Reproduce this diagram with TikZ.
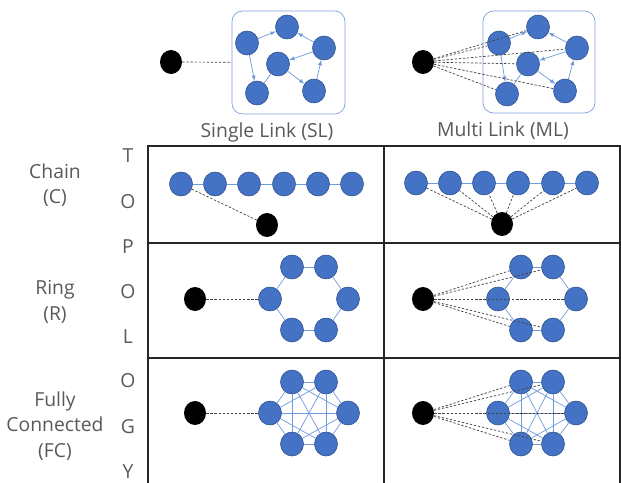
\documentclass[tikz,border=0pt]{standalone}
\usepackage{fontspec}
\setmainfont{Open Sans}
\usetikzlibrary{shapes.geometric}
\definecolor{nodeblue}{HTML}{4472C4}
\definecolor{nodeline}{HTML}{2F528F}
\definecolor{linkblue}{HTML}{6F9BDD}
\definecolor{boxline}{HTML}{7F9FDA}
\definecolor{textgray}{HTML}{595959}
\tikzset{
  agent/.style = {
    ellipse, draw=nodeline, fill=nodeblue, line width=.5pt,
    minimum width=.69cm, minimum height=.72cm, inner sep=0pt
  },
  source/.style = {
    ellipse, fill=black, minimum width=.66cm, minimum height=.72cm, inner sep=0pt
  },
  link/.style = {draw=linkblue, line width=.6pt},
  arrow link/.style = {link, -latex},
  probe/.style = {draw=black!75, dash pattern=on 2pt off 1.5pt, line width=.6pt},
  team box/.style = {
    draw=boxline, line width=.6pt, rounded corners=9pt
  },
  title text/.style = {
    text=textgray, align=center, inner sep=0pt,
    font=\fontsize{16.5}{21.5}\selectfont
  },
  grid line/.style = {draw=black!85, line width=1.2pt}
}

\begin{document}
\begin{tikzpicture}[x=0.03cm, y=-0.03cm]
    \useasboundingbox (0,0) rectangle (621,483);
    % the table
    \draw[grid line] (148,483) -- (148,146) -- (620,146) -- (620,483);
    \draw[grid line] (384,146) -- (384,483);
    \draw[grid line] (148,243) -- (620,243);
    \draw[grid line] (148,358) -- (620,358);
    % headings
    \node[title text] (sl-title) at (267,132) {Single Link (SL)};
    \node[title text] (ml-title) at (503,131) {Multi Link (ML)};
    \node[title text] (chain-title) at (55,185) {Chain\\(C)};
    \node[title text] (ring-title) at (55,302) {Ring\\(R)};
    \node[title text] (fc-title) at (55,426) {Fully\\Connected\\(FC)};
    \path
      (128,156) node[title text] (t1) {T}
      (128,202) node[title text] (t2) {O}
      (128,247) node[title text] (t3) {P}
      (128,292) node[title text] (t4) {O}
      (128,337) node[title text] (t5) {L}
      (128,381) node[title text] (t6) {O}
      (128,427) node[title text] (t7) {G}
      (128,472) node[title text] (t8) {Y}
    ;
    % single link, free team
    \node[team box, minimum width=3.39cm, minimum height=3.09cm] (sl-box) at (288.5,62.5) {};
    \node[source] (s0) at (171,62) {};
    \node[agent] (sa) at (247,43) {};
    \node[agent] (sb) at (287,27) {};
    \node[agent] (sc) at (324,48) {};
    \node[agent] (sd) at (278,64) {};
    \node[agent] (se) at (257,93) {};
    \node[agent] (sf) at (314,91) {};
    \path
      (sa) edge[arrow link] (sb)
      (sc) edge[arrow link] (sb)
      (sc) edge[arrow link] (sd)
      (sa) edge[arrow link] (se)
      (sd) edge[link] (se)
      (sd) edge[arrow link] (sf)
      (sf) edge[arrow link] (sc)
    ;
    \draw[probe] (s0) -- (sl-box);
    % multi link, free team
    \node[team box, minimum width=3.36cm, minimum height=3.06cm] (ml-box) at (539,62) {};
    \node[source] (m0) at (423,62) {};
    \node[agent] (ma) at (499,43) {};
    \node[agent] (mb) at (538,27) {};
    \node[agent] (mc) at (577,48) {};
    \node[agent] (md) at (528,64) {};
    \node[agent] (me) at (507,94) {};
    \node[agent] (mf) at (565,91) {};
    \path
      (ma) edge[arrow link] (mb)
      (mc) edge[arrow link] (mb)
      (mc) edge[arrow link] (md)
      (ma) edge[arrow link] (me)
      (md) edge[link] (me)
      (md) edge[arrow link] (mf)
      (mf) edge[arrow link] (mc)
    ;
    \path[probe]
      (m0) edge (ma) edge (mb) edge (mc) edge (md) edge (me) edge (mf)
    ;
    % chain
    \node[agent] (c1) at (181,184) {};
    \node[agent] (c2) at (215,184) {};
    \node[agent] (c3) at (249,184) {};
    \node[agent] (c4) at (284,184) {};
    \node[agent] (c5) at (318,184) {};
    \node[agent] (c6) at (352,184) {};
    \node[source] (c0) at (267,225) {};
    \path[link] (c1) edge (c2) (c2) edge (c3) (c3) edge (c4) (c4) edge (c5) (c5) edge (c6);
    \draw[probe] (c1) -- (c0);
    \node[agent] (d1) at (416,183) {};
    \node[agent] (d2) at (450,183) {};
    \node[agent] (d3) at (484,183) {};
    \node[agent] (d4) at (518,183) {};
    \node[agent] (d5) at (553,183) {};
    \node[agent] (d6) at (587,183) {};
    \node[source] (d0) at (502,224) {};
    \path[link] (d1) edge (d2) (d2) edge (d3) (d3) edge (d4) (d4) edge (d5) (d5) edge (d6);
    \path[probe]
      (d0) edge (d1) edge (d2) edge (d3) edge (d4) edge (d5) edge (d6)
    ;
    % ring
    \node[source] (r0) at (195,299) {};
    \node[agent] (r1) at (270,299) {};
    \node[agent] (r2) at (292,267) {};
    \node[agent] (r3) at (326,267) {};
    \node[agent] (r4) at (348,299) {};
    \node[agent] (r5) at (326,330) {};
    \node[agent] (r6) at (292,330) {};
    \path[link] (r1) edge (r2) (r2) edge (r3) (r3) edge (r4) (r4) edge (r5) (r5) edge (r6) (r6) edge (r1);
    \draw[probe] (r0) -- (r1);
    \node[source] (q0) at (423,299) {};
    \node[agent] (q1) at (498,299) {};
    \node[agent] (q2) at (521,267) {};
    \node[agent] (q3) at (553,267) {};
    \node[agent] (q4) at (576,299) {};
    \node[agent] (q5) at (553,330) {};
    \node[agent] (q6) at (521,330) {};
    \path[link] (q1) edge (q2) (q2) edge (q3) (q3) edge (q4) (q4) edge (q5) (q5) edge (q6) (q6) edge (q1);
    \path[probe]
      (q0) edge (q1) edge (q2) edge (q3) edge (q4) edge (q5) edge (q6)
    ;
    % fully connected
    \node[source] (f0) at (195,413) {};
    \node[agent] (f1) at (270,413) {};
    \node[agent] (f2) at (292,382) {};
    \node[agent] (f3) at (326,382) {};
    \node[agent] (f4) at (348,413) {};
    \node[agent] (f5) at (326,444) {};
    \node[agent] (f6) at (292,444) {};
    \path[link]
      (f1) edge (f2) edge (f3) edge (f4) edge (f5) edge (f6)
      (f2) edge (f3) edge (f4) edge (f5) edge (f6)
      (f3) edge (f4) edge (f5) edge (f6)
      (f4) edge (f5) edge (f6)
      (f5) edge (f6)
    ;
    \draw[probe] (f0) -- (f1);
    \node[source] (g0) at (423,413) {};
    \node[agent] (g1) at (498,413) {};
    \node[agent] (g2) at (521,382) {};
    \node[agent] (g3) at (553,382) {};
    \node[agent] (g4) at (576,413) {};
    \node[agent] (g5) at (553,444) {};
    \node[agent] (g6) at (521,444) {};
    \path[link]
      (g1) edge (g2) edge (g3) edge (g4) edge (g5) edge (g6)
      (g2) edge (g3) edge (g4) edge (g5) edge (g6)
      (g3) edge (g4) edge (g5) edge (g6)
      (g4) edge (g5) edge (g6)
      (g5) edge (g6)
    ;
    \path[probe]
      (g0) edge (g1) edge (g2) edge (g3) edge (g4) edge (g5) edge (g6)
    ;
\end{tikzpicture}
\end{document}
